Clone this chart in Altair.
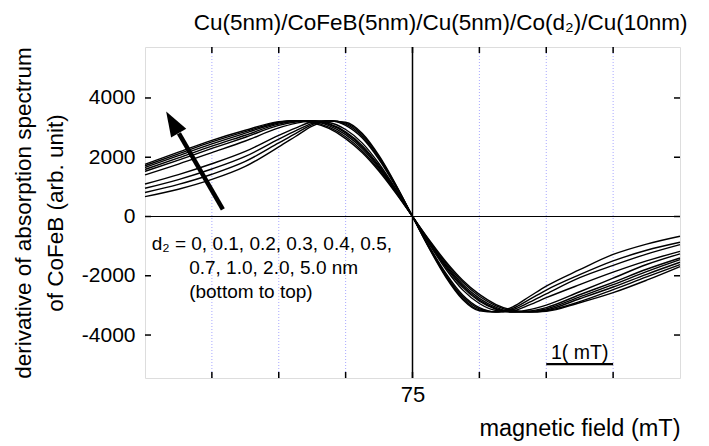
import altair as alt
import pandas as pd

FONT = "Liberation Sans"

# ---- data ----
field_mT = [71, 71.5, 72, 72.5, 73, 73.25, 73.5, 73.75, 74, 74.25, 74.5, 74.75, 75,
            75.25, 75.5, 75.75, 76, 76.25, 76.5, 76.75, 77, 77.5, 78, 78.5, 79]

d2_names = ["0", "0.1", "0.2", "0.3", "0.4", "0.5", "0.7", "1.0", "2.0", "5.0"]

curve_0 = [670, 920, 1250, 1690, 2350, 2700, 3050, 3220, 3180, 2800, 2050, 1080, 0,
           -1080, -2050, -2800, -3180, -3220, -3050, -2700, -2350, -1795, -1280, -930, -665]
curve_01 = [811, 1083, 1426, 1859, 2483, 2799, 3101, 3230, 3153, 2756, 2012, 1058, 0,
            -1058, -2012, -2756, -3153, -3220, -3101, -2799, -2483, -1965, -1500, -1140, -870]
curve_02 = [953, 1247, 1602, 2027, 2611, 2890, 3144, 3230, 3116, 2703, 1967, 1032, 0,
            -1032, -1967, -2703, -3116, -3220, -3144, -2890, -2611, -2065, -1650, -1270, -950]
curve_03 = [1096, 1414, 1780, 2197, 2741, 2983, 3189, 3230, 3077, 2648, 1920, 1007, 0,
            -1007, -1920, -2648, -3077, -3220, -3189, -2983, -2741, -2300, -1880, -1500, -1175]
curve_04 = [1405, 1769, 2156, 2547, 2989, 3142, 3230, 3172, 2935, 2476, 1780, 929, 0,
            -929, -1780, -2476, -2935, -3172, -3220, -3142, -2989, -2540, -2080, -1620, -1260]
curve_05 = [1524, 1903, 2297, 2675, 3073, 3190, 3230, 3131, 2861, 2392, 1715, 892, 0,
            -892, -1715, -2392, -2861, -3131, -3220, -3190, -3073, -2640, -2220, -1780, -1400]
curve_07 = [1587, 1976, 2373, 2743, 3118, 3215, 3230, 3108, 2820, 2346, 1677, 873, 0,
            -873, -1677, -2346, -2820, -3108, -3220, -3215, -3118, -2710, -2300, -1860, -1455]
curve_10 = [1653, 2052, 2450, 2811, 3157, 3230, 3215, 3068, 2761, 2284, 1628, 846, 0,
            -846, -1628, -2284, -2761, -3068, -3215, -3220, -3157, -2775, -2380, -1950, -1545]
curve_20 = [1712, 2116, 2516, 2865, 3180, 3230, 3185, 3015, 2690, 2213, 1572, 815, 0,
            -815, -1572, -2213, -2690, -3015, -3185, -3220, -3180, -2875, -2470, -2040, -1625]
curve_50 = [1760, 2170, 2570, 2910, 3200, 3230, 3160, 2970, 2630, 2150, 1525, 790, 0,
            -790, -1525, -2150, -2630, -2970, -3160, -3220, -3200, -2910, -2570, -2150, -1690]

curves = [curve_0, curve_01, curve_02, curve_03, curve_04, curve_05,
          curve_07, curve_10, curve_20, curve_50]

grid_x = [72, 73, 74, 76, 77, 78]
tick_x = [72, 73, 74, 75, 76, 77, 78]
tick_y = [-4000, -2000, 0, 2000, 4000]
x_label_values = [75]

note_lines = ["d\u2082 = 0, 0.1, 0.2, 0.3, 0.4, 0.5,", "0.7, 1.0, 2.0, 5.0 nm", "(bottom to top)"]
note_x = [71.1, 71.66, 71.66]
note_y = [-914, -1726, -2538]

arrow_tail = (72.164, 237)
arrow_base = (71.507, 2809)
arrow_head_center = (71.41, 3181)

scale_bar_x = [77, 78]
scale_bar_y = -4985
scale_text = "1( mT)"
scale_text_y = -4600

title_text = "Cu(5nm)/CoFeB(5nm)/Cu(5nm)/Co(d\u2082)/Cu(10nm)"
title_center_x = 75.42

# ---- tables ----
rows = []
for name, vals in zip(d2_names, curves):
    for xv, yv in zip(field_mT, vals):
        rows.append({"x": xv, "y": yv, "d2": name})
curves_df = pd.DataFrame(rows)

W, H = 535, 331
xscale = alt.Scale(domain=[71, 79], nice=False, zero=False)
yscale = alt.Scale(domain=[-5450, 5720], nice=False, zero=False)

X = alt.X("x:Q", scale=xscale,
          axis=alt.Axis(values=x_label_values, title="magnetic field (mT)",
                        grid=False, domain=False, ticks=False, tickSize=0,
                        labelFont=FONT, labelFontSize=22, labelColor="black",
                        labelPadding=6, titleFont=FONT, titleFontSize=23.5,
                        titleFontWeight="normal", titleColor="black",
                        titleAnchor="end", titlePadding=11))
Y = alt.Y("y:Q", scale=yscale,
          axis=alt.Axis(values=tick_y, labelExpr="toString(datum.value)",
                        title=["derivative of absorption spectrum", "of CoFeB (arb. unit)"],
                        grid=False, domain=False, ticks=False, tickSize=0,
                        labelFont=FONT, labelFontSize=21, labelColor="black",
                        labelPadding=10, titleFont=FONT, titleFontSize=22.5,
                        titleFontWeight="normal", titleColor="black",
                        titleLineHeight=32, titlePadding=14))

grid = alt.Chart(pd.DataFrame({"x": grid_x})).mark_rule(
    color="#a8a8ff", strokeWidth=1, strokeDash=[1, 2]).encode(x=X)
center = alt.Chart(pd.DataFrame({"x": [75]})).mark_rule(
    color="black", strokeWidth=1.5).encode(x=X)
zero = alt.Chart(pd.DataFrame({"y": [0]})).mark_rule(
    color="black", strokeWidth=1.2).encode(y=Y)

lines = alt.Chart(curves_df).mark_line(
    color="black", strokeWidth=1.4, interpolate="monotone").encode(
    x=X, y=Y, detail="d2:N")

xt = pd.DataFrame({"x": tick_x})
yt = pd.DataFrame({"y": tick_y})
tick_bottom = alt.Chart(xt).mark_rule(color="black", strokeWidth=1.5).encode(
    x=X, y=alt.value(H), y2=alt.value(H - 6))
tick_top = alt.Chart(xt).mark_rule(color="black", strokeWidth=1.5).encode(
    x=X, y=alt.value(0), y2=alt.value(6))
tick_left = alt.Chart(yt).mark_rule(color="black", strokeWidth=1.5).encode(
    y=Y, x=alt.value(0), x2=alt.value(6))
tick_right = alt.Chart(yt).mark_rule(color="black", strokeWidth=1.5).encode(
    y=Y, x=alt.value(W), x2=alt.value(W - 6))

notes = alt.Chart(pd.DataFrame({"x": note_x, "y": note_y, "t": note_lines})).mark_text(
    font=FONT, fontSize=19, align="left", baseline="middle", color="black").encode(
    x=X, y=Y, text="t:N")

shaft = alt.Chart(pd.DataFrame({"x": [arrow_tail[0]], "y": [arrow_tail[1]],
                                "x2": [arrow_base[0]], "y2": [arrow_base[1]]})).mark_rule(
    color="black", strokeWidth=4.5).encode(x=X, y=Y, x2="x2:Q", y2="y2:Q")
head = alt.Chart(pd.DataFrame({"x": [arrow_head_center[0]], "y": [arrow_head_center[1]]})).mark_point(
    shape="M0,-1L0.7,1L-0.7,1Z", filled=True, size=625, angle=330,
    color="black", opacity=1, strokeWidth=0).encode(x=X, y=Y)

bar = alt.Chart(pd.DataFrame({"x": [scale_bar_x[0]], "x2": [scale_bar_x[1]], "y": [scale_bar_y]})).mark_rule(
    color="black", strokeWidth=2.2).encode(x=X, x2="x2:Q", y=Y)
bar_text = alt.Chart(pd.DataFrame({"x": [sum(scale_bar_x) / 2], "y": [scale_text_y], "t": [scale_text]})).mark_text(
    font=FONT, fontSize=19.5, align="center", baseline="middle", color="black").encode(
    x=X, y=Y, text="t:N")

title = alt.Chart(pd.DataFrame({"x": [title_center_x], "t": [title_text]})).mark_text(
    font=FONT, fontSize=22.5, align="center", baseline="alphabetic", color="black").encode(
    x=X, y=alt.value(-17), text="t:N")

chart = alt.layer(
    grid, center, zero, lines, tick_bottom, tick_top, tick_left, tick_right,
    notes, shaft, head, bar, bar_text, title
).properties(
    width=W, height=H,
    autosize=alt.AutoSizeParams(type="none"),
    padding={"left": 137, "top": 39, "right": 15, "bottom": 64},
).configure_view(stroke="black", strokeWidth=1.5).configure(background="white")

chart.save("out.html", embed_options={"renderer": "svg", "actions": False})
